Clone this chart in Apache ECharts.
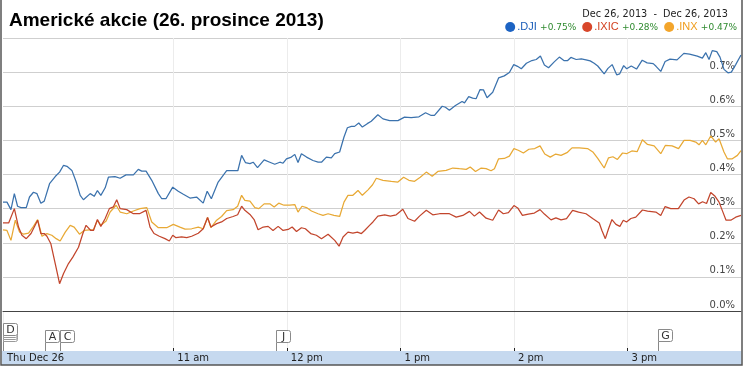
<!DOCTYPE html>
<html>
<head>
<meta charset="utf-8">
<script src="https://cdn.jsdelivr.net/npm/echarts@6/dist/echarts.min.js"></script>
<style>html,body{margin:0;padding:0;background:#fff;}#c{width:743px;height:367px;}</style>
</head>
<body>
<div id="c"></div>
<script>
// ---- data (time = minutes after 9:30, value = % change) ----
const seriesNames = ['.DJI', '.IXIC', '.INX'];
const changeTexts = ['+0.75%', '+0.28%', '+0.47%'];

const djiT = [0,2.1,4.2,6.0,7.7,9.5,12.3,14.0,16.1,17.9,20.0,21.8,24.6,27.6,29.9,32.0,33.8,36.4,38.7,40.8,42.5,46.1,48.2,49.9,51.7,54.0,55.7,59.2,61.9,65.0,68.9,71.5,73.3,75.6,78.6,82.1,83.9,86.1,89.7,92.6,95.3,98.8,102.3,105.8,107.9,110.1,113.7,118.2,124.1,126.1,128.1,130.5,132.2,134.5,138.0,141.0,143.6,146.3,148.0,149.8,152.4,154.2,155.9,157.7,160.4,163.8,166.5,168.3,170.9,173.5,175.3,177.9,180.2,182.0,184.1,185.8,188.0,189.9,192.5,194.6,198.1,200.8,204.3,208.7,212.2,215.7,219.8,223.3,226.3,228.0,232.1,233.8,235.9,239.1,242.6,243.9,246.1,248.2,250.0,252.1,253.9,255.8,258.8,261.9,264.9,267.6,269.9,271.9,273.9,276.6,279.5,281.8,284.0,286.1,288.3,291.3,294.0,296.4,298.4,300.1,302.9,305.6,308.1,310.3,312.4,314.3,315.1,317.7,319.7,321.9,324.3,325.9,328.0,329.6,332.0,334.8,337.8,340.4,343.6,345.1,347.6,349.9,352.5,356.2,359.8,362.8,366.9,369.6,371.4,373.1,374.8,377.2,378.9,381.0,383.1,384.9,387.2,390];
const djiV = [0.319,0.319,0.297,0.344,0.307,0.303,0.303,0.334,0.348,0.344,0.316,0.322,0.373,0.394,0.407,0.427,0.424,0.412,0.378,0.339,0.326,0.344,0.336,0.353,0.339,0.361,0.392,0.394,0.389,0.399,0.399,0.415,0.410,0.410,0.383,0.344,0.329,0.329,0.363,0.351,0.342,0.331,0.334,0.316,0.351,0.329,0.378,0.411,0.411,0.456,0.435,0.432,0.436,0.420,0.443,0.436,0.430,0.436,0.433,0.446,0.451,0.459,0.435,0.461,0.451,0.441,0.436,0.436,0.451,0.449,0.461,0.466,0.510,0.537,0.541,0.541,0.551,0.539,0.549,0.556,0.575,0.563,0.558,0.558,0.568,0.567,0.569,0.581,0.573,0.573,0.600,0.597,0.588,0.602,0.614,0.610,0.628,0.624,0.622,0.649,0.648,0.625,0.641,0.683,0.689,0.699,0.722,0.717,0.710,0.726,0.734,0.737,0.747,0.721,0.713,0.730,0.744,0.734,0.734,0.743,0.737,0.739,0.736,0.733,0.726,0.718,0.717,0.695,0.711,0.722,0.692,0.695,0.719,0.710,0.718,0.709,0.735,0.727,0.725,0.717,0.702,0.731,0.738,0.736,0.755,0.753,0.747,0.741,0.757,0.737,0.763,0.760,0.744,0.708,0.698,0.700,0.722,0.750];

const ixicT = [0,3.0,6.0,8.2,10.0,12.3,14.8,18.3,20.0,21.8,23.2,25.3,27.6,29.9,32.0,34.6,36.9,39.9,42.2,43.9,46.4,47.8,49.9,51.7,54.0,56.2,58.3,60.1,61.9,65.4,68.9,72.1,75.6,77.7,79.8,82.6,85.6,87.9,89.7,91.4,94.4,97.1,99.7,103.2,105.8,108.1,109.9,112.9,115.5,118.2,121.6,124.0,126.1,127.8,130.5,132.7,134.8,137.5,140.1,142.7,145.4,148.0,150.7,152.8,155.1,157.7,159.8,162.6,165.6,168.3,171.8,175.3,177.6,179.7,182.3,184.9,187.3,189.4,191.1,193.7,195.5,198.1,201.7,204.7,207.8,211.3,214.0,217.5,220.1,223.7,227.1,230.7,235.9,239.5,243.0,246.5,249.1,251.8,255.3,258.8,261.9,264.4,267.1,270.0,272.0,274.5,277.6,280.8,283.8,286.1,289.6,292.2,294.9,297.8,301.0,304.2,308.1,311.6,315.1,316.5,318.3,320.0,321.8,323.9,326.0,327.8,329.5,331.8,334.4,337.9,340.6,345.0,347.6,349.9,352.9,356.9,359.9,362.5,365.2,367.6,369.7,371.8,374.0,376.3,378.4,380.5,382.1,384.6,387.2,390];
const ixicV = [0.258,0.258,0.300,0.246,0.222,0.212,0.227,0.266,0.227,0.227,0.219,0.197,0.139,0.080,0.110,0.139,0.158,0.187,0.227,0.251,0.236,0.236,0.268,0.248,0.271,0.300,0.305,0.326,0.300,0.297,0.285,0.285,0.295,0.246,0.227,0.219,0.212,0.205,0.222,0.215,0.217,0.215,0.219,0.228,0.241,0.274,0.246,0.256,0.261,0.271,0.277,0.282,0.307,0.295,0.283,0.268,0.238,0.246,0.248,0.236,0.248,0.236,0.239,0.246,0.233,0.244,0.241,0.227,0.222,0.212,0.225,0.207,0.190,0.217,0.231,0.228,0.231,0.227,0.236,0.251,0.261,0.278,0.282,0.278,0.282,0.298,0.271,0.263,0.278,0.295,0.282,0.285,0.285,0.275,0.280,0.292,0.278,0.290,0.272,0.266,0.296,0.285,0.288,0.309,0.302,0.280,0.284,0.287,0.297,0.284,0.267,0.273,0.267,0.271,0.295,0.290,0.285,0.271,0.258,0.236,0.212,0.241,0.268,0.254,0.248,0.266,0.261,0.271,0.275,0.296,0.293,0.290,0.280,0.306,0.300,0.300,0.325,0.334,0.329,0.314,0.320,0.315,0.347,0.336,0.319,0.289,0.266,0.266,0.275,0.280];

const inxT = [0,2.1,4.2,6.5,8.8,10.9,13.5,16.1,18.3,20.6,23.2,25.8,28.1,30.2,32.9,35.5,37.6,40.4,42.9,45.7,47.8,49.9,51.7,54.5,56.6,59.8,61.9,65.4,68.9,72.4,76.0,78.6,82.1,86.5,90.0,93.5,96.2,99.7,103.2,105.8,108.1,109.9,112.9,115.5,118.2,121.6,124.0,126.1,127.8,130.5,133.1,135.2,138.0,141.0,143.3,145.7,148.5,151.5,154.2,155.9,158.0,160.4,163.0,166.5,169.1,171.8,174.9,177.9,180.2,182.3,184.9,187.6,189.9,192.9,195.3,197.3,200.8,205.2,208.7,211.7,214.5,217.5,220.5,223.7,226.8,229.8,234.2,237.7,241.2,244.8,246.9,249.7,252.7,255.3,257.9,259.7,261.9,264.9,267.6,270.0,272.3,275.0,277.9,281.0,283.8,286.3,289.2,292.1,294.9,298.3,300.7,304.5,308.9,311.9,314.3,315.1,317.7,320.0,322.3,324.7,327.4,329.5,332.3,335.1,337.9,340.6,344.1,347.6,350.0,353.6,357.0,359.9,363.1,366.1,367.8,369.6,371.4,374.0,376.6,378.4,381.0,382.8,385.4,388.1,390];
const inxV = [0.238,0.236,0.207,0.266,0.231,0.225,0.228,0.248,0.268,0.219,0.227,0.222,0.212,0.205,0.231,0.251,0.246,0.225,0.236,0.238,0.238,0.266,0.251,0.264,0.290,0.310,0.290,0.285,0.293,0.300,0.303,0.261,0.244,0.244,0.254,0.246,0.240,0.241,0.246,0.241,0.274,0.244,0.266,0.277,0.294,0.297,0.307,0.339,0.324,0.322,0.303,0.300,0.314,0.314,0.305,0.316,0.310,0.310,0.312,0.290,0.307,0.303,0.293,0.285,0.280,0.285,0.280,0.277,0.319,0.339,0.339,0.353,0.339,0.355,0.370,0.389,0.383,0.380,0.378,0.392,0.383,0.380,0.392,0.407,0.395,0.409,0.412,0.419,0.417,0.415,0.422,0.409,0.419,0.417,0.411,0.417,0.446,0.447,0.454,0.476,0.471,0.463,0.474,0.476,0.484,0.460,0.451,0.460,0.456,0.465,0.478,0.478,0.476,0.465,0.447,0.446,0.419,0.449,0.452,0.444,0.463,0.461,0.469,0.467,0.502,0.488,0.484,0.461,0.485,0.484,0.476,0.500,0.500,0.495,0.487,0.500,0.487,0.513,0.495,0.505,0.466,0.446,0.446,0.456,0.470];

const tickMinutes = [0, 90, 150, 210, 270, 330];
const tickLabels = ['Thu Dec 26', '11 am', '12 pm', '1 pm', '2 pm', '3 pm'];
const gridMinutes = [90, 150, 210, 270, 330];
const eventT = [0, 22.3, 29.9, 144.2, 346.0];
const eventLetters = ['D', 'A', 'C', 'J', 'G'];
const dateRangeText = 'Dec 26, 2013  -  Dec 26, 2013';
const titleText = 'Americké akcie (26. prosince 2013)';

// ---- styles ----
const lineColors = ['#3b72ad', '#c2452c', '#e8a935'];
const dotColors = ['#1c63c3', '#d8462a', '#f3a52b'];
const nameColors = ['#1a5cb8', '#d2401f', '#f09d1c'];
const flagLift = { D: 16, G: 10 };
const VERD = '"DejaVu Sans", Verdana, sans-serif';
const ARIAL = '"Liberation Sans", Arial, sans-serif';

function pairs(t, v) {
  const n = Math.min(t.length, v.length);
  const out = [];
  for (let i = 0; i < n; i++) out.push([t[i], v[i]]);
  return out;
}
const seriesData = [pairs(djiT, djiV), pairs(ixicT, ixicV), pairs(inxT, inxV)];

const chart = echarts.init(document.getElementById('c'), null, { renderer: 'canvas' });

const rich = { c: { color: '#2f8a2f', fontSize: 9, fontFamily: VERD, padding: [1, 0, 0, 0] } };
seriesNames.forEach((n, i) => { rich['n' + i] = { color: nameColors[i], fontSize: 11, fontFamily: ARIAL, padding: [0, 0, 0, -3] }; });

const option = {
  animation: false,
  backgroundColor: '#ffffff',
  title: [
    { text: titleText, left: 9, top: 11, padding: 0, textStyle: { fontFamily: ARIAL, fontWeight: 'bold', fontSize: 19, color: '#000' } },
    { text: dateRangeText, right: 15, top: 9, padding: 0, textStyle: { fontFamily: VERD, fontWeight: 'normal', fontSize: 9.7, color: '#222' } }
  ],
  legend: {
    right: 6, top: 21, padding: 0, icon: 'circle', itemWidth: 10, itemHeight: 10, itemGap: 6,
    selectedMode: false,
    data: seriesNames.map((n, i) => ({ name: n, itemStyle: { color: dotColors[i] } })),
    formatter: name => { const i = seriesNames.indexOf(name); return '{n' + i + '|' + name + '} {c|' + changeTexts[i] + '}'; },
    textStyle: { rich: rich }
  },
  grid: [
    { left: 3, right: 2, top: 38, height: 273 },
    { left: 3, right: 2, top: 311, height: 40 }
  ],
  xAxis: [
    {
      gridIndex: 0, type: 'value', min: 0, max: 390,
      axisLine: { show: true, lineStyle: { color: '#444', width: 1 } },
      axisTick: { show: false, customValues: gridMinutes },
      axisLabel: { show: false },
      splitLine: { show: true, lineStyle: { color: '#ececec', width: 1 } }
    },
    {
      gridIndex: 1, type: 'value', min: 0, max: 390, position: 'bottom',
      axisLine: { show: false },
      axisTick: { show: true, inside: true, length: 3, customValues: tickMinutes, lineStyle: { color: '#222' } },
      axisLabel: {
        show: true, customValues: tickMinutes, align: 'left', verticalAlign: 'top', margin: 2,
        padding: [0, 0, 0, 4],
        formatter: v => { const i = tickMinutes.indexOf(v); return i >= 0 ? tickLabels[i] : ''; },
        fontFamily: VERD, fontSize: 10, color: '#222'
      },
      splitLine: { show: true, lineStyle: { color: '#ececec', width: 1 } }
    }
  ],
  yAxis: [
    {
      gridIndex: 0, type: 'value', min: 0, max: 0.8, interval: 0.1, position: 'right',
      axisLine: { show: false }, axisTick: { show: false },
      axisLabel: {
        inside: true, margin: 6, verticalAlign: 'bottom', showMaxLabel: false,
        formatter: v => v.toFixed(1) + '%', fontFamily: VERD, fontSize: 10, color: '#444', lineHeight: 12
      },
      splitLine: { show: true, lineStyle: { color: '#cfcfcf', width: 1 } }
    },
    { gridIndex: 1, type: 'value', min: 0, max: 40, show: false, splitLine: { show: false } }
  ],
  graphic: [
    { type: 'rect', z: -10, silent: true, shape: { x: 2, y: 351, width: 739.5, height: 14 }, style: { fill: '#c6d9ef' } },
    { type: 'rect', z: 100, silent: true, shape: { x: 1, y: -2, width: 741, height: 367 }, style: { fill: null, stroke: '#555', lineWidth: 1.5 } }
  ],
  series: [
    ...seriesNames.map((n, i) => ({
      name: n, type: 'line', xAxisIndex: 0, yAxisIndex: 0,
      data: seriesData[i], showSymbol: false, symbol: 'none', smooth: false,
      lineStyle: { color: lineColors[i], width: 1.25 },
      itemStyle: { color: dotColors[i] },
      emphasis: { disabled: true }, z: 3 - i
    })),
    {
      name: 'events', type: 'custom', xAxisIndex: 1, yAxisIndex: 1,
      data: eventT.map(t => [t, 0]),
      silent: true,
      renderItem: (params, api) => {
        const letter = eventLetters[params.dataIndex];
        const base = api.coord([api.value(0), 0]);
        const lift = flagLift[letter] !== undefined ? flagLift[letter] : 9.5;
        const x = Math.round(base[0]) + 0.5;
        const yb = Math.round(base[1] - lift) + 0.5;
        const w = 14, h = 12;
        const children = [];
        children.push({ type: 'line', shape: { x1: x, y1: base[1], x2: x, y2: yb }, style: { stroke: '#888', lineWidth: 1 } });
        if (letter === 'D') {
          for (let k = 3; k >= 1; k--) {
            children.push({ type: 'rect', shape: { x: x, y: yb - h + k * 2, width: w, height: h, r: [0, 2, 2, 0] }, style: { fill: '#fff', stroke: '#9a9a9a', lineWidth: 1 } });
          }
        }
        children.push({ type: 'rect', shape: { x: x, y: yb - h, width: w, height: h, r: [0, 2, 2, 0] }, style: { fill: '#fff', stroke: '#8a8a8a', lineWidth: 1 } });
        children.push({ type: 'text', style: { text: letter, x: x + w / 2, y: yb - h / 2 + 0.5, align: 'center', verticalAlign: 'middle', fill: '#333', font: '11px ' + VERD } });
        return { type: 'group', children: children };
      },
      z: 5
    }
  ]
};
chart.setOption(option);
</script>
</body>
</html>
